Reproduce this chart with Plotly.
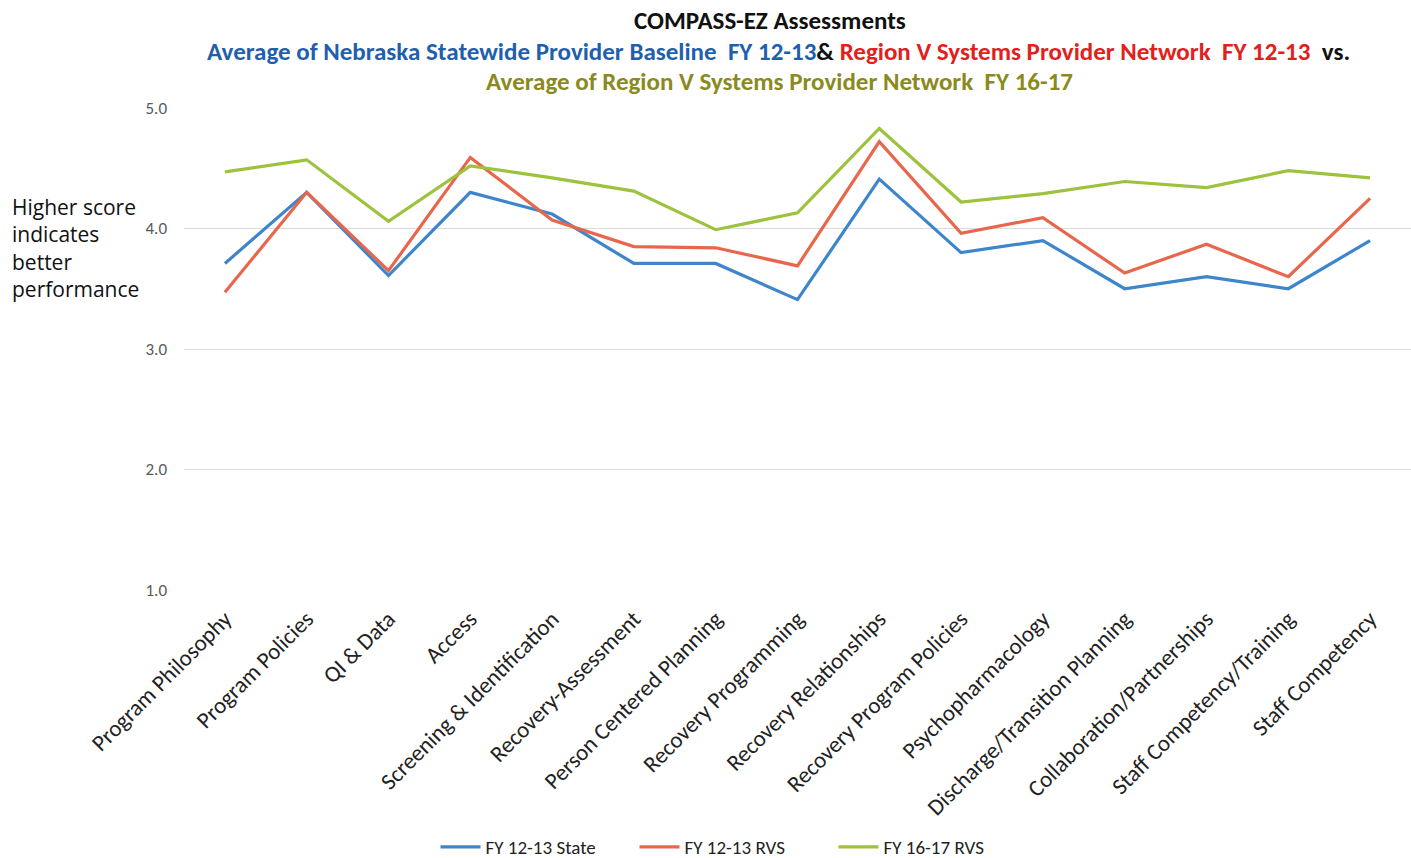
import plotly.graph_objects as go

categories = [
    "Program Philosophy", "Program Policies", "QI & Data", "Access",
    "Screening & Identification", "Recovery-Assessment", "Person Centered Planning",
    "Recovery Programming", "Recovery Relationships", "Recovery Program Policies",
    "Psychopharmacology", "Discharge/Transition Planning", "Collaboration/Partnerships",
    "Staff Competency/Training", "Staff Competency",
]

state_1213 = [3.71, 4.30, 3.61, 4.30, 4.12, 3.71, 3.71, 3.41, 4.41, 3.80, 3.90, 3.50, 3.60, 3.50, 3.90]
rvs_1213 = [3.47, 4.30, 3.65, 4.59, 4.07, 3.85, 3.84, 3.69, 4.72, 3.96, 4.09, 3.63, 3.87, 3.60, 4.25]
rvs_1617 = [4.47, 4.57, 4.06, 4.52, 4.42, 4.31, 3.99, 4.13, 4.83, 4.22, 4.29, 4.39, 4.34, 4.48, 4.42]

series_names = ["FY 12-13 State", "FY 12-13 RVS", "FY 16-17 RVS"]
y_ticks = [1, 2, 3, 4, 5]
y_tick_labels = ["1.0", "2.0", "3.0", "4.0", "5.0"]

colors = ["#3f85cc", "#e8664c", "#9dc23d"]
FONT = "Carlito, Lato, sans-serif"

W, H = 1411, 858
L, R, T, B = 184, 0, 108, 268
PW, PH = W - L - R, H - T - B

fig = go.Figure()
for name, vals, col in zip(series_names, [state_1213, rvs_1213, rvs_1617], colors):
    fig.add_trace(go.Scatter(
        x=categories, y=vals, name=name, mode="lines",
        line=dict(color=col, width=3.2),
    ))

fig.update_layout(
    width=W, height=H,
    margin=dict(l=L, r=R, t=T, b=B, autoexpand=False),
    paper_bgcolor="white", plot_bgcolor="white",
    font=dict(family=FONT, color="#222222"),
    showlegend=True,
    legend=dict(
        orientation="h", xref="container", yref="container",
        x=734 / W, xanchor="center", y=1 - 847 / H, yanchor="middle",
        font=dict(size=19, color="#222222", family=FONT),
        itemwidth=40, entrywidth=144, tracegroupgap=0,
    ),
    xaxis=dict(
        type="category", tickangle=-45, showgrid=False, zeroline=False,
        showline=False, ticks="", automargin=False, ticklabelstandoff=10,
        tickfont=dict(size=23, color="#222222", family=FONT),
        range=[-0.5, 14.5],
    ),
    yaxis=dict(
        range=[1, 5], tickvals=y_ticks, ticktext=y_tick_labels,
        showgrid=True, gridcolor="#d9dde0", gridwidth=1, zeroline=False,
        showline=False, ticks="", ticklabelstandoff=16, automargin=False,
        tickfont=dict(size=17, color="#595959", family=FONT),
    ),
)

def px_x(x):
    return (x - L) / PW

def px_y(y):
    return 1 - (y - T) / PH

fig.add_annotation(
    text="<b>COMPASS-EZ Assessments</b>", xref="paper", yref="paper",
    x=px_x(770), y=px_y(21), xanchor="center", yanchor="middle",
    showarrow=False, font=dict(size=25, color="#111111", family=FONT),
)
fig.add_annotation(
    text=("<b><span style='color:#1f5fae'>Average of Nebraska Statewide Provider Baseline  FY 12-13</span>"
          "<span style='color:#111111'>&amp; </span>"
          "<span style='color:#e0211c'>Region V Systems Provider Network  FY 12-13</span>"
          "<span style='color:#111111'>  vs.</span></b>"),
    xref="paper", yref="paper",
    x=px_x(778), y=px_y(52), xanchor="center", yanchor="middle",
    showarrow=False, font=dict(size=25, family=FONT),
)
fig.add_annotation(
    text="<b>Average of Region V Systems Provider Network  FY 16-17</b>",
    xref="paper", yref="paper",
    x=px_x(779), y=px_y(82), xanchor="center", yanchor="middle",
    showarrow=False, font=dict(size=25, color="#8a8a1e", family=FONT),
)
fig.add_annotation(
    text="Higher score<br>indicates<br>better<br>performance",
    xref="paper", yref="paper",
    x=px_x(10), y=px_y(248), xanchor="left", yanchor="middle",
    align="left", showarrow=False,
    font=dict(size=21, color="#111111", family="Open Sans, sans-serif"),
)

fig.write_html("out.html", config={"displayModeBar": False},
               post_script="document.body.style.margin='0px';")
